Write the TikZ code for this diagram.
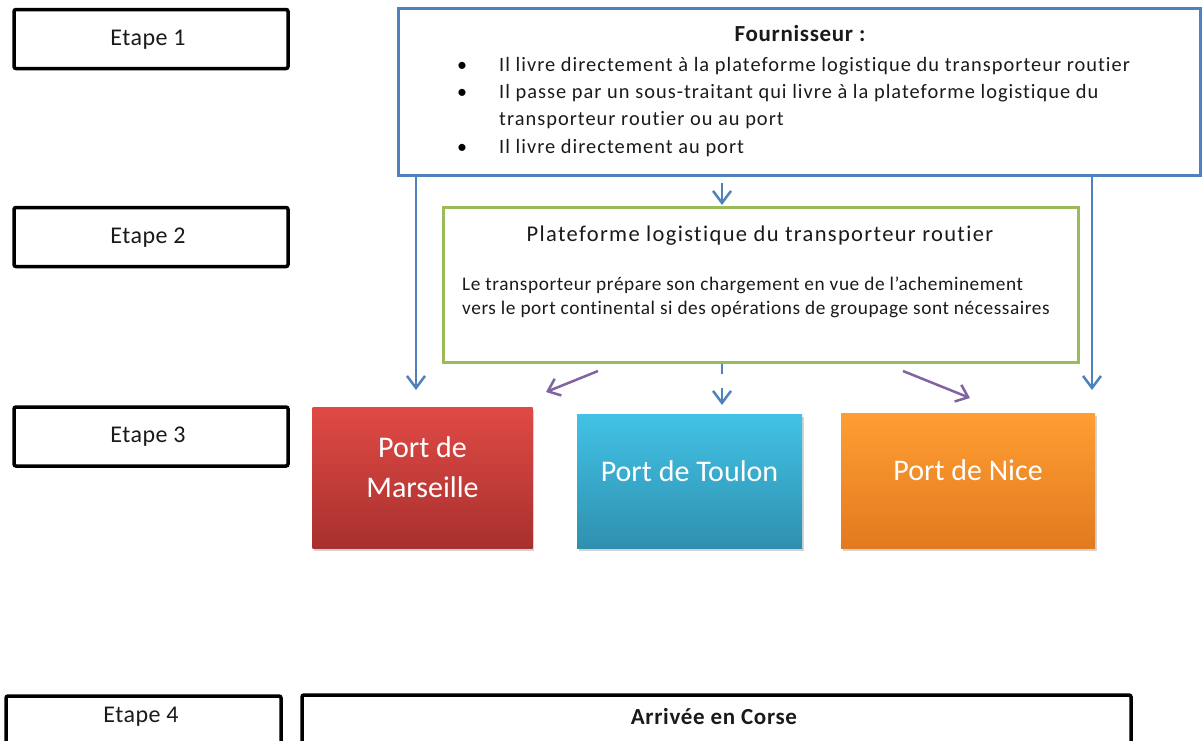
\documentclass[tikz,border=0pt]{standalone}
\usepackage{fontspec}
\setmainfont[Ligatures=NoCommon]{Carlito}
\usetikzlibrary{arrows.meta,shadows}
\definecolor{fblue}{HTML}{4F81BD}
\definecolor{fgreen}{HTML}{9BBB59}
\definecolor{fpurple}{HTML}{8064A2}
\definecolor{redtop}{HTML}{E04A45}
\definecolor{redbot}{HTML}{A8302E}
\definecolor{cyantop}{HTML}{42C2E6}
\definecolor{cyanbot}{HTML}{2F90AE}
\definecolor{orgtop}{HTML}{FF9E33}
\definecolor{orgbot}{HTML}{E27A1F}
\definecolor{txt}{HTML}{1A1A1A}
\newfontfamily\etfont[LetterSpace=2,Ligatures=NoCommon]{Carlito}
\newfontfamily\bulfont[LetterSpace=5,Ligatures=NoCommon]{Carlito}
\newfontfamily\titfont[LetterSpace=6,Ligatures=NoCommon]{Carlito}
\newfontfamily\hdfont[LetterSpace=3,Ligatures=NoCommon]{Carlito}
\newfontfamily\bodfont[LetterSpace=3,Ligatures=NoCommon]{Carlito}
\tikzset{
  etapebox/.style={draw=black, line width=3.5pt, rounded corners=2pt, minimum width=274pt, minimum height=59pt, inner sep=0pt},
  etapetext/.style={font=\etfont\fontsize{24}{28}\selectfont, text=txt, inner sep=0pt},
  bultext/.style={font=\bulfont\fontsize{20.4}{25}\selectfont, text=txt, inner sep=0pt, anchor=base west},
  bulmark/.style={font=\fontsize{20}{25}\selectfont, text=black, inner sep=0pt, anchor=base},
  bodtext/.style={font=\bodfont\fontsize{19.3}{23}\selectfont, text=txt, inner sep=0pt, anchor=base west},
  hdtext/.style={font=\hdfont\bfseries\fontsize{23}{27}\selectfont, text=txt, inner sep=0pt},
  portbox/.style={inner sep=0pt, drop shadow={opacity=0.35, shadow xshift=1.5pt, shadow yshift=-2.5pt}},
  porttext/.style={text=white, font=\fontsize{30}{40}\selectfont, align=center, inner sep=0pt},
  arrowblue/.style={draw=fblue, line width=2.5pt, -{Straight Barb[length=12pt,width=18pt]}},
  arrowpurple/.style={draw=fpurple, line width=2.5pt, -{Straight Barb[length=11pt,width=18pt]}}
}
\begin{document}
\begin{tikzpicture}[x=1pt,y=-1pt]
\useasboundingbox (0,0) rectangle (1202,740);
\begin{scope}
\clip (0,0) rectangle (1202,740);
% Etape boxes
\node[etapebox] (e1) at (151,39) {};
\node[etapetext] (e1t) at (148,40) {Etape 1};
\node[etapebox] (e2) at (151,237) {};
\node[etapetext] (e2t) at (148,238) {Etape 2};
\node[etapebox] (e3) at (151,436.5) {};
\node[etapetext] (e3t) at (148,437) {Etape 3};
\node[etapebox, minimum width=275pt, minimum height=48pt] (e4) at (143.5,720) {};
\node[etapetext] (e4t) at (141,717) {Etape 4};
% Arrivee
\node[draw=black, line width=3.5pt, rounded corners=2pt, minimum width=829pt, minimum height=50pt, inner sep=0pt] (corse) at (716.5,720) {};
\node[hdtext] (corset) at (714,717) {Arrivée en Corse};
% Fournisseur
\node[draw=fblue, line width=3pt, minimum width=802pt, minimum height=167pt, inner sep=0pt] (four) at (799,91.5) {};
\node[hdtext, anchor=base] (fourt) at (800,41) {Fournisseur :};
\node[bulmark] (b1) at (462,71) {\textbullet};
\node[bultext] (l1) at (499,71) {Il livre directement à la plateforme logistique du transporteur routier};
\node[bulmark] (b2) at (462,98) {\textbullet};
\node[bultext] (l2) at (499,98) {Il passe par un sous-traitant qui livre à la plateforme logistique du};
\node[bultext] (l3) at (499,125) {transporteur routier ou au port};
\node[bulmark] (b3) at (462,153) {\textbullet};
\node[bultext] (l4) at (499,153) {Il livre directement au port};
% Plateforme
\node[draw=fgreen, line width=3pt, minimum width=635pt, minimum height=155pt, inner sep=0pt] (plat) at (760.5,284.5) {};
\node[font=\titfont\fontsize{22.5}{26}\selectfont, text=txt, inner sep=0pt, anchor=base] (platt) at (760,241) {Plateforme logistique du transporteur routier};
\node[bodtext] (p1) at (462,290) {Le transporteur prépare son chargement en vue de l’acheminement};
\node[bodtext] (p2) at (462,314) {vers le port continental si des opérations de groupage sont nécessaires};
% Ports
\node[portbox, top color=redtop, bottom color=redbot, minimum width=220pt, minimum height=141pt] (mar) at (422.5,477.5) {};
\node[porttext] (mart) at ([yshift=10pt]mar.center) {Port de\\Marseille};
\node[portbox, top color=cyantop, bottom color=cyanbot, minimum width=225pt, minimum height=134pt] (tou) at (689.5,481) {};
\node[porttext] (tout) at ([yshift=10pt]tou.center) {Port de Toulon};
\node[portbox, top color=orgtop, bottom color=orgbot, minimum width=254pt, minimum height=135pt] (nice) at (968,480.5) {};
\node[porttext] (nicet) at ([yshift=10pt]nice.center) {Port de Nice};
% connectors
\coordinate (tipL) at (416,390);
\coordinate (tipR) at (1092,390);
\coordinate (midA0) at (722,183);
\coordinate (tipM1) at (722,205);
\coordinate (tipM2) at (722,405);
\coordinate (pl0) at (598,371);
\coordinate (pl1) at (546,392);
\coordinate (pr0) at (903,371);
\coordinate (pr1) at (970,398);
\draw[arrowblue] (four.south -| tipL) -- (tipL);
\draw[arrowblue] (four.south -| tipR) -- (tipR);
\draw[arrowblue] (midA0) -- (tipM1);
\draw[arrowblue, dash pattern=on 10pt off 14pt on 30pt] (plat.south -| tipM2) -- (tipM2);
\draw[arrowpurple] (pl0) -- (pl1);
\draw[arrowpurple] (pr0) -- (pr1);
\end{scope}
\end{tikzpicture}
\end{document}
